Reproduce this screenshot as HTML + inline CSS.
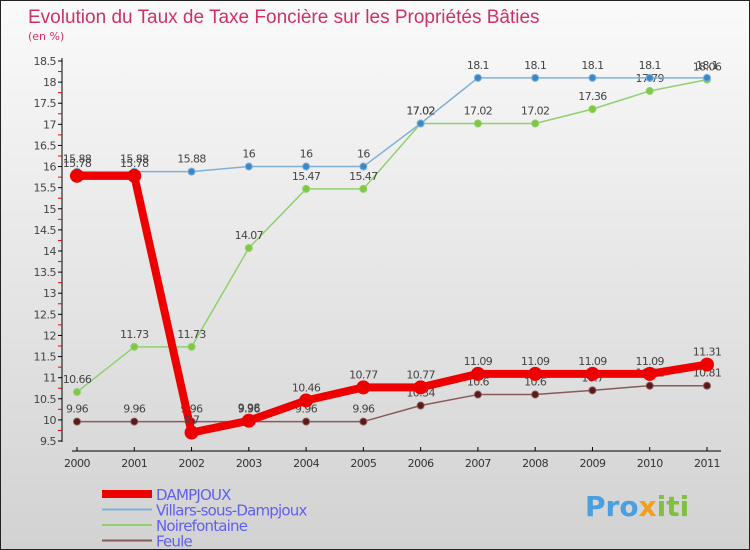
<!DOCTYPE html>
<html><head><meta charset="utf-8"><style>
body{margin:0}
#c{width:750px;height:550px;position:relative;overflow:hidden;background:linear-gradient(#fafafa,#d2d2d2);font-family:"DejaVu Sans","Liberation Sans",sans-serif;box-sizing:border-box;border:1px solid #222}
</style></head><body>
<div id="c">
<svg id="s" width="750" height="550" xmlns="http://www.w3.org/2000/svg">
<text x="27" y="22" font-size="19" fill="#d0306a" font-family="Liberation Sans,sans-serif">Evolution du Taux de Taxe Foncière sur les Propriétés Bâties</text>
<text x="27" y="39" font-size="11" fill="#d0306a">(en %)</text>
<g id="axes"></g><g id="series"></g><g id="legend"></g>
<text x="584" y="515" font-size="28" font-weight="bold" fill="#4a9fe0">Pro<tspan fill="#f0a020">x</tspan><tspan fill="#80c040">iti</tspan></text>
</svg>
</div>
<script>
const years=[2000,2001,2002,2003,2004,2005,2006,2007,2008,2009,2010,2011];
const dampjoux=[15.78,15.78,9.7,9.98,10.46,10.77,10.77,11.09,11.09,11.09,11.09,11.31];
const villars=[15.88,15.88,15.88,16,16,16,17.02,18.1,18.1,18.1,18.1,18.1];
const noire=[10.66,11.73,11.73,14.07,15.47,15.47,17.02,17.02,17.02,17.36,17.79,18.06];
const feule=[9.96,9.96,9.96,9.96,9.96,9.96,10.34,10.6,10.6,10.7,10.81,10.81];
const yTicks=[9.5,10,10.5,11,11.5,12,12.5,13,13.5,14,14.5,15,15.5,16,16.5,17,17.5,18,18.5];
const NS="http://www.w3.org/2000/svg";
const X=i=>76+i*(630/11);
const Y=v=>440-(v-9.5)*(380/9);
function mk(p,t,a){const e=document.createElementNS(NS,t);for(const k in a)e.setAttribute(k,a[k]);p.appendChild(e);return e;}
const ax=document.getElementById('axes');
let l=mk(ax,'line',{x1:61,y1:57,x2:61,y2:441,stroke:'#000'});

l=mk(ax,'line',{x1:71,y1:450,x2:720,y2:450,stroke:'#000'});

yTicks.forEach(v=>{
 const y=Y(v);
 mk(ax,'line',{x1:57,y1:y,x2:61,y2:y,stroke:'#000'});
 if(v<18.5) mk(ax,'line',{x1:57,y1:Y(v+0.25),x2:61,y2:Y(v+0.25),stroke:'#e00'});
 const t=mk(ax,'text',{x:55,y:y+4,'font-size':11,fill:'#444','text-anchor':'end','letter-spacing':'-0.5'});
 t.textContent=v;
 
});
years.forEach((yr,i)=>{
 mk(ax,'line',{x1:X(i),y1:446,x2:X(i),y2:450,stroke:'#000'});
 const t=mk(ax,'text',{x:X(i),y:466,'font-size':11,fill:'#333','text-anchor':'middle','letter-spacing':'-0.5'});
 t.textContent=yr;
 
});
const sg=document.getElementById('series');
function series(data,color,w,r,dot,name){
 const g=mk(sg,'g',{});
 
 const pl=mk(g,'polyline',{points:data.map((v,i)=>X(i)+','+Y(v)).join(' '),fill:'none',stroke:color,'stroke-width':w,'stroke-linejoin':'round'});
 
 data.forEach((v,i)=>{
  const c=mk(g,'circle',{cx:X(i),cy:Y(v),r:r,fill:dot,stroke:color,'stroke-width':1});
  
  const t=mk(g,'text',{x:X(i),y:Y(v)-9,'font-size':11,fill:'#444','text-anchor':'middle','letter-spacing':'-0.6'});
  t.textContent=v;
  
 });
}
series(feule,'#8a5a5a',1.5,3.5,'#5a1a1a','feule');
series(noire,'#90d070',1.5,3.5,'#80c840','noirefontaine');
series(villars,'#80b0d8',1.5,3.5,'#3a88c8','villars');
series(dampjoux,'#ee0000',8,6.5,'#ee0000','dampjoux');
const lg=document.getElementById('legend');
const items=[['DAMPJOUX','#ee0000',8],['Villars-sous-Dampjoux','#80b0d8',2],['Noirefontaine','#90d070',2],['Feule','#8a5a5a',2]];
items.forEach((it,k)=>{
 const y=493+k*15.5;
 const ln=mk(lg,'line',{x1:101,y1:y,x2:151,y2:y,stroke:it[1],'stroke-width':it[2]});
 
 const t=mk(lg,'text',{x:155,y:y+6,'font-size':15,fill:'#6060f0','letter-spacing':'-0.8'});
 t.textContent=it[0];
 
});
</script>
</body></html>
